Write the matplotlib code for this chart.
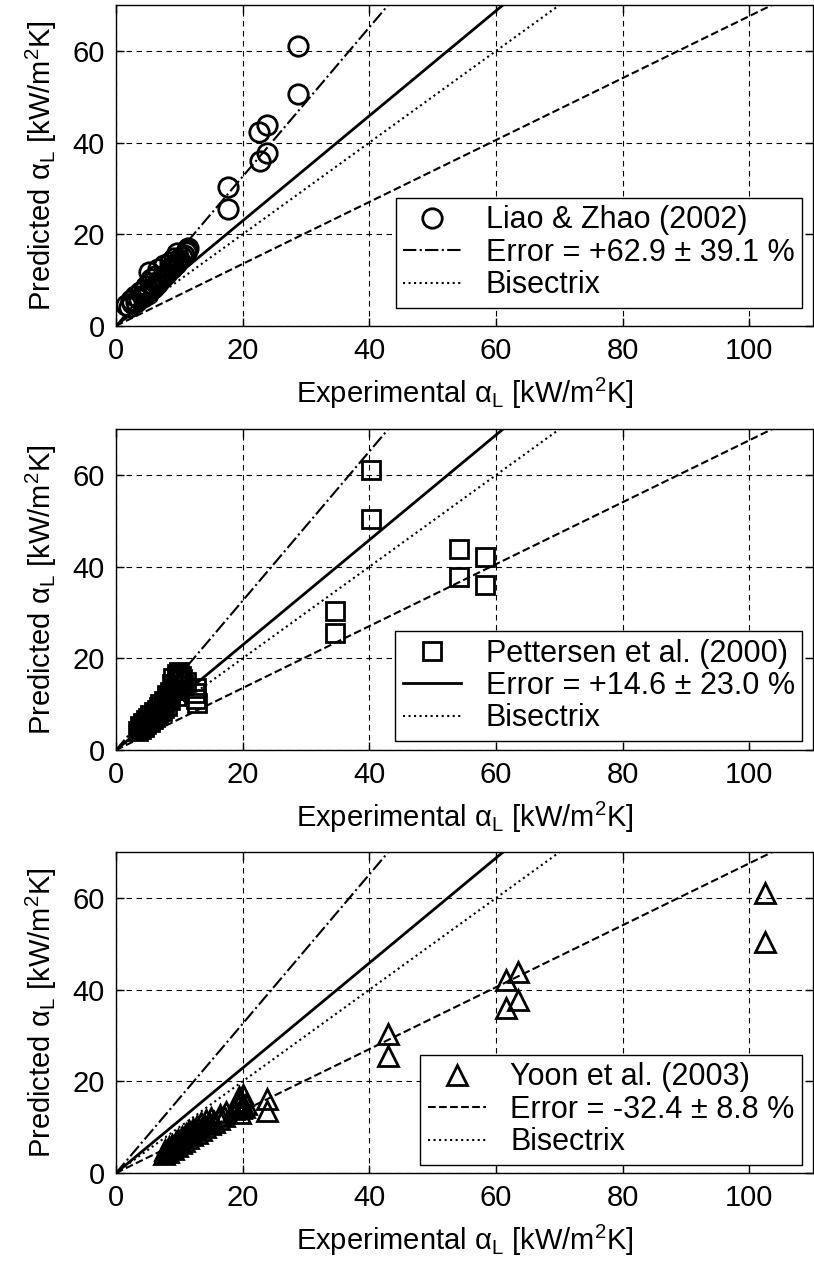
#!/usr/bin/env python3
"""Predicted vs experimental liquid heat transfer coefficient, three correlations."""

import matplotlib
matplotlib.use('Agg')
import matplotlib.pyplot as plt
import numpy as np

plt.rcParams['font.family'] = ['Liberation Sans', 'DejaVu Sans']
plt.rcParams['mathtext.fontset'] = 'custom'
plt.rcParams['mathtext.rm'] = 'Liberation Sans'
plt.rcParams['mathtext.it'] = 'Liberation Sans:italic'
plt.rcParams['font.size'] = 21

# Predicted alpha_L [kW/m2K] (same values in every panel)
predicted = [4.2, 4.6, 5.0, 5.3, 5.6, 5.9, 6.2, 6.5, 6.8, 7.0, 7.3, 7.6, 7.9, 8.2,
             8.5, 8.8, 9.1, 9.4, 9.7, 10.0, 10.3, 10.6, 10.9, 11.2, 11.5, 11.8,
             12.1, 12.4, 12.7, 13.0, 13.3, 13.6, 13.9, 14.2, 14.5, 14.8, 15.1,
             15.4, 15.8, 16.2, 16.6, 17.0,
             61.0, 50.5, 43.8, 42.2, 37.8, 36.0, 30.3, 25.6]

# Experimental alpha_L [kW/m2K] for each data source
exp_liao = [2.0, 1.6, 2.6, 3.2, 2.4, 3.6, 4.2, 3.0, 4.6, 5.0, 3.8, 5.2, 4.4, 5.8,
            6.0, 4.8, 6.4, 5.4, 6.8, 7.0, 5.6, 7.4, 6.2, 7.8, 8.0, 5.2,
            8.4, 6.6, 8.8, 9.0, 7.6, 9.4, 8.6, 9.8, 10.0, 9.2, 10.4,
            10.8, 9.6, 11.0, 11.2, 11.4,
            28.8, 28.8, 23.8, 22.6, 23.8, 22.7, 17.7, 17.7]
exp_pettersen = [3.4, 4.0, 4.4, 3.8, 4.8, 4.2, 5.4, 4.8, 5.8, 5.0, 6.2, 5.4, 6.6, 6.0,
                 7.2, 6.4, 7.6, 6.8, 8.0, 7.0, 12.8, 7.6, 8.6, 12.6, 8.2, 9.4,
                 8.0, 12.4, 8.6, 10.0, 9.0, 12.6, 9.4, 10.6, 8.8, 11.0, 9.6,
                 10.4, 9.0, 10.2, 9.6, 10.0,
                 40.3, 40.3, 54.2, 58.2, 54.2, 58.2, 34.5, 34.5]
exp_yoon = [7.6, 8.2, 7.8, 9.0, 8.4, 9.6, 8.8, 10.2, 9.4, 10.8, 9.8, 11.4, 10.4, 12.0,
            11.0, 12.8, 11.6, 13.4, 12.2, 14.0, 12.8, 14.8, 13.4, 15.4, 14.2, 16.2,
            15.0, 17.0, 16.4, 19.6, 17.4, 23.8, 18.6, 19.8, 20.2, 19.2, 20.6,
            19.6, 19.8, 23.8, 19.4, 20.0,
            102.5, 102.5, 63.5, 61.5, 63.5, 61.5, 43.0, 43.0]

sources = ['Liao & Zhao (2002)', 'Pettersen et al. (2000)', 'Yoon et al. (2003)']
mean_errors = [62.9, 14.6, -32.4]   # %
std_errors = [39.1, 23.0, 8.8]      # %
markers = ['o', 's', '^']
marker_sizes = [14, 12.5, 15]
fit_styles = ['-.', '-', '--']
fit_widths = [1.5, 2.0, 1.5]
legend_bottoms = [0.056, 0.028, 0.025]

x_line = np.linspace(0, 110, 200)

fig = plt.figure(figsize=(8.14, 12.68), dpi=100)
bottoms = [0.743, 0.4085, 0.0749]

for i, exp_vals in enumerate([exp_liao, exp_pettersen, exp_yoon]):
    ax = fig.add_axes([0.1425, bottoms[i], 0.856, 0.253])

    # all fit lines appear in every panel
    for k in range(3):
        ax.plot(x_line, (1 + mean_errors[k] / 100) * x_line, color='black',
                linestyle=fit_styles[k], linewidth=fit_widths[k], zorder=2)
    ax.plot(x_line, x_line, color='black', linestyle=':', linewidth=1.5, zorder=2)

    pts, = ax.plot(exp_vals, predicted, linestyle='none', marker=markers[i],
                   markersize=marker_sizes[i], markerfacecolor='none',
                   markeredgecolor='black', markeredgewidth=2.0, zorder=3)

    # legend handles
    h_fit, = ax.plot([], [], color='black', linestyle=fit_styles[i], linewidth=fit_widths[i])
    h_bis, = ax.plot([], [], color='black', linestyle=':', linewidth=1.5)
    sign = '+' if mean_errors[i] >= 0 else '-'
    err_label = f'Error = {sign}{abs(mean_errors[i]):.1f} \u00b1 {std_errors[i]:.1f} %'
    leg = ax.legend([pts, h_fit, h_bis], [sources[i], err_label, 'Bisectrix'],
                    loc='lower right', bbox_to_anchor=(0.985, legend_bottoms[i]),
                    borderaxespad=0, fancybox=False, framealpha=1, edgecolor='black',
                    handlelength=1.9, labelspacing=0.08, borderpad=0.25,
                    handletextpad=0.8, fontsize=22)
    leg.get_frame().set_linewidth(1.0)

    ax.set_xlim(0, 110)
    ax.set_ylim(0, 70)
    ax.set_xticks([0, 20, 40, 60, 80, 100])
    ax.set_yticks([0, 20, 40, 60])
    ax.tick_params(direction='in', top=True, right=True, length=6, width=1, pad=8)
    ax.grid(True, color='black', linestyle=(0, (5, 4)), linewidth=0.8)
    for sp in ax.spines.values():
        sp.set_linewidth(1.0)
    ax.set_xlabel(r'Experimental α$_{\mathrm{L}}$ [kW/m$^{2}$K]', labelpad=8)
    ax.set_ylabel(r'Predicted α$_{\mathrm{L}}$ [kW/m$^{2}$K]', labelpad=10)

plt.savefig('out.png', dpi=100)
plt.close()
